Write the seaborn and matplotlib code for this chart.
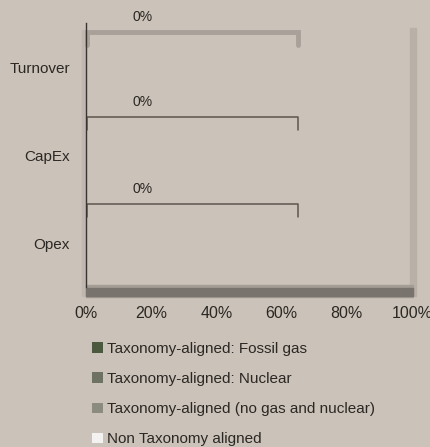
import matplotlib
matplotlib.use("Agg")
import matplotlib.pyplot as plt
import seaborn as sns
import pandas as pd
import numpy as np
from matplotlib.patches import Patch, Rectangle

categories = ["Turnover", "CapEx", "Opex"]
fossil_gas = [0, 0, 0]
nuclear = [0, 0, 0]
aligned_other = [0, 0, 0]
non_aligned = [0, 0, 0]
series_names = ["Taxonomy-aligned: Fossil gas", "Taxonomy-aligned: Nuclear",
                "Taxonomy-aligned (no gas and nuclear)", "Non Taxonomy aligned"]
series_colors = ["#4b5a3f", "#6e7263", "#8b8b80", "#f4f2f0"]
xticks = [0, 20, 40, 60, 80, 100]
xtick_labels = ["0%", "20%", "40%", "60%", "80%", "100%"]
bracket_end = 65

BG = "#cbc3ba"
sns.set_theme(style="white")
plt.rcParams["font.family"] = ["Liberation Sans Narrow", "Liberation Sans", "DejaVu Sans"]

W, H = 431, 447
fig = plt.figure(figsize=(W / 100, H / 100), dpi=100, facecolor=BG)
ax = fig.add_axes([86 / W, 1 - 287 / H, 326 / W, 264 / H])
ax.set_facecolor(BG)
ax.set_zorder(1)
ax.patch.set_alpha(0)

# shadow frame
for (x0, y0, w, h, c) in [(410, 296, 6, 268, "#b9b0a8"), (82, 296, 4, 266, "#c0b8b0"),
                          (86, 297, 327, 12, "#a49d96"), (86, 296, 327, 8, "#79736d")]:
    fig.patches.append(Rectangle((x0 / W, 1 - y0 / H), w / W, h / H, transform=fig.transFigure,
                                 color=c, zorder=0))

df = pd.DataFrame({"fossil": fossil_gas, "nuclear": nuclear,
                   "other": aligned_other, "non": non_aligned})
cols = ["fossil", "nuclear", "other", "non"]
cum = df[cols].cumsum(axis=1).assign(category=categories)
for i in reversed(range(len(cols))):
    sns.barplot(data=cum, x=cols[i], y="category", color=series_colors[i],
                orient="h", ax=ax, width=0.5, linewidth=0, zorder=2)

ax.set_xlim(0, 100)
ax.set_ylim(2.5, -0.5)
ax.set_xticks(xticks)
ax.set_xticklabels(xtick_labels)
ax.set_xlabel("")
ax.set_ylabel("")
for s in ["top", "right", "bottom"]:
    ax.spines[s].set_visible(False)
ax.spines["left"].set_color("#3a3430")
ax.spines["left"].set_linewidth(1.0)
ax.spines["left"].set_zorder(5)
ax.tick_params(axis="x", length=0, labelsize=11.5, colors="#2b2723", pad=14)
ax.tick_params(axis="y", length=0, labelsize=11, colors="#2b2723", pad=11.5)

# brackets with totals
totals = [f + n + o for f, n, o in zip(fossil_gas, nuclear, aligned_other)]
offsets = [-0.40, -0.43, -0.44]
for i, (t, off) in enumerate(zip(totals, offsets)):
    yb = i + off
    xs = [0.4, 0.4, bracket_end, bracket_end]
    ys = [yb + 0.15, yb, yb, yb + 0.15]
    if i == 0:
        ax.plot(xs, ys, color="#a9a199", lw=3.5, solid_joinstyle="miter", clip_on=False, zorder=3)
    else:
        ax.plot(xs, ys, color="#5e5550", lw=1.1, clip_on=False, zorder=3)
    ax.text(17.5, yb - 0.09, f"{t:.0f}%", ha="center", va="bottom", fontsize=10,
            color="#2b2723", clip_on=False)

handles = [Patch(facecolor=c, edgecolor="none") for c in series_colors]
fig.legend(handles, series_names, loc="upper left", bbox_to_anchor=(86 / W, 1 - 336 / H),
           frameon=False, fontsize=11, handlelength=0.7, handleheight=0.7,
           handletextpad=0.25, labelspacing=1.05, borderaxespad=0, labelcolor="#2b2723")

fig.savefig("out.png", dpi=100, facecolor=BG)
